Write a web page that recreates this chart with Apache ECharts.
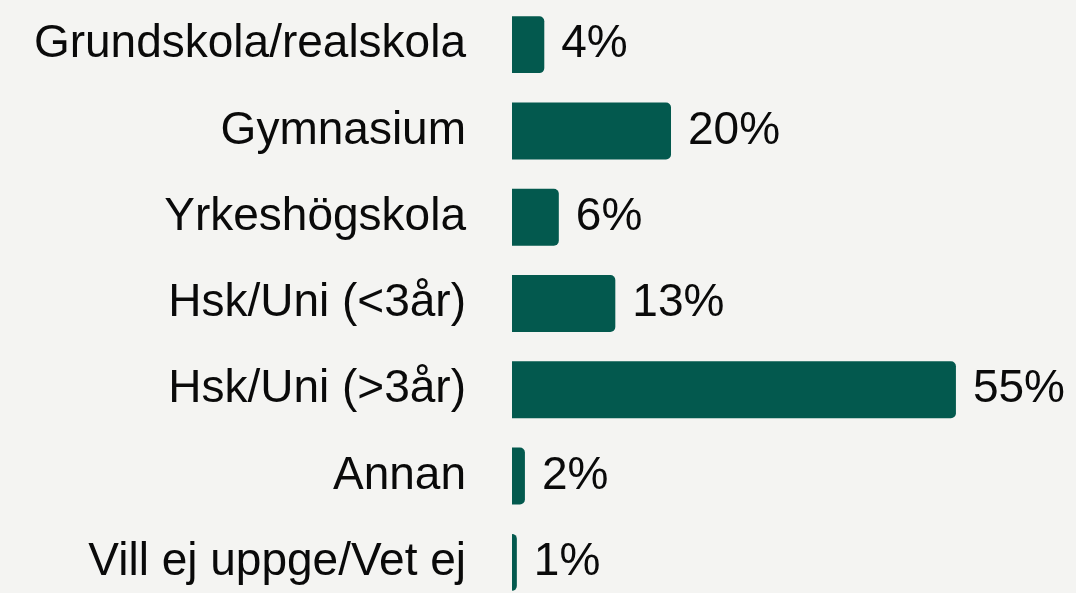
<!DOCTYPE html>
<html>
<head>
<meta charset="utf-8">
<script src="https://cdn.jsdelivr.net/npm/echarts@6/dist/echarts.min.js"></script>
<style>
  html, body { margin: 0; padding: 0; background: #f4f4f2; }
  #chart { width: 1076px; height: 593px; }
</style>
</head>
<body>
<div id="chart"></div>
<script>
// utbildningsnivå
var categories = ['Grundskola/realskola', 'Gymnasium', 'Yrkeshögskola', 'Hsk/Uni (<3år)', 'Hsk/Uni (>3år)', 'Annan', 'Vill ej uppge/Vet ej'];
var values = [4, 19.7, 5.8, 12.8, 55, 1.6, 0.6];
var labels = ['4%', '20%', '6%', '13%', '55%', '2%', '1%'];

var chart = echarts.init(document.getElementById('chart'));

var option = {
    backgroundColor: '#f4f4f2',
    animation: false,
    grid: {
        left: 512,
        top: 1.5,
        width: 565,
        height: 604,
        outerBoundsMode: 'none'
    },
    xAxis: {
        type: 'value',
        min: 0,
        max: 70,
        show: false
    },
    yAxis: {
        type: 'category',
        inverse: true,
        data: categories,
        axisLine: { show: false },
        axisTick: { show: false },
        splitLine: { show: false },
        axisLabel: {
            margin: 46,
            color: '#0a0a0a',
            fontFamily: 'Liberation Sans',
            fontSize: 46
        }
    },
    series: [{
        type: 'bar',
        data: values,
        barWidth: '66%',
        itemStyle: {
            color: '#03594e',
            borderRadius: [0, 5, 5, 0]
        },
        label: {
            show: true,
            position: 'right',
            distance: 17,
            color: '#0a0a0a',
            fontFamily: 'Liberation Sans',
            fontSize: 46,
            formatter: function (p) { return labels[p.dataIndex]; }
        }
    }]
};

chart.setOption(option);
</script>
</body>
</html>
